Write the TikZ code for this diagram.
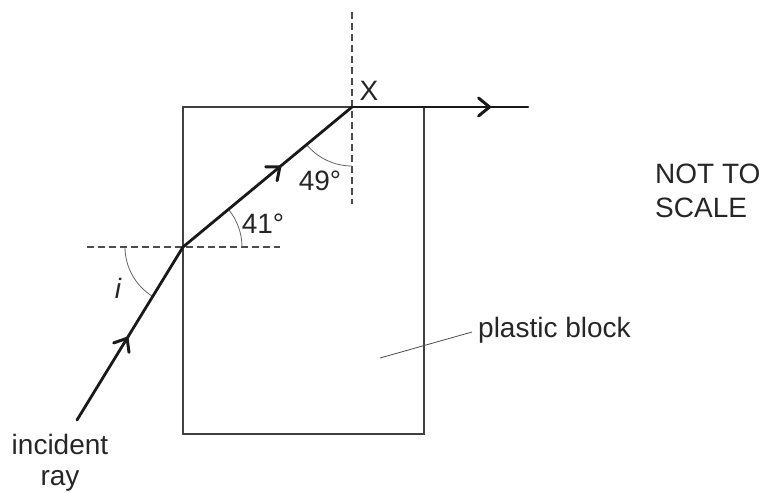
\documentclass[tikz,border=0pt]{standalone}
\usepackage{fontspec}
\setmainfont{Liberation Sans}
\usetikzlibrary{arrows.meta,decorations.markings}
\begin{document}
\begin{tikzpicture}[x=1pt,y=-1pt,
  ray/.style={line width=2.8pt, line cap=round, color=black!90},
  blockline/.style={line width=1.2pt, color=black!75},
  normal/.style={line width=1.1pt, dash pattern=on 7pt off 4pt, color=black!70},
  anglearc/.style={line width=0.8pt, color=black!60},
  lbl/.style={font=\fontsize{28}{32}\selectfont, text=black!85, inner sep=0pt, anchor=base},
  midarrow/.style={postaction={decorate}, decoration={markings,
     mark=at position #1 with {\arrow{Straight Barb[length=11pt,width=18pt,line width=3pt,round]}}}}
]
\useasboundingbox (0,0) rectangle (764,493);
% block corners
\coordinate (BL) at (183,434);
\coordinate (TR) at (424,107);
\draw[blockline] (BL) rectangle (TR);
% key points
\coordinate (S) at (77,420);
\coordinate (P) at (183,247);
\coordinate (X) at (352,107);
\coordinate (E) at (528,107);
% normals
\coordinate (NL) at (87,247);
\coordinate (NR) at (280,247);
\coordinate (NT) at (352,12);
\coordinate (NB) at (352,204);
\draw[normal] (NL) -- (NR);
\draw[normal] (NT) -- (NB);
% angle arcs
\draw[anglearc] (P) ++(0:59) arc[start angle=0, end angle=-39.6, radius=59];
\draw[anglearc] (X) ++(90:59) arc[start angle=90, end angle=140.4, radius=59];
\draw[anglearc] (P) ++(180:58) arc[start angle=180, end angle=121.5, radius=58];
% rays
\draw[ray, midarrow=0.48] (S) -- (P);
\draw[ray, midarrow=0.58] (P) -- (X);
\draw[ray, midarrow=0.79] (X) -- (E);
% labels
\node[lbl] (lx) at (369,100) {X};
\node[lbl] (l41) at (263,233) {41°};
\node[lbl] (l49) at (320,190) {49°};
\node[lbl, font=\fontsize{28}{32}\selectfont\itshape] (li) at (118,298) {i};
\node[lbl, anchor=base west] (lnot) at (655,183) {NOT TO};
\node[lbl, anchor=base west] (lscale) at (655,217) {SCALE};
\node[lbl] (linc) at (60,454) {incident};
\node[lbl] (lray) at (60,485) {ray};
\node[lbl, anchor=base west] (lpb) at (478,337) {plastic block};
\coordinate (LA) at (380,358);
\coordinate (LB) at (472,332);
\draw[anglearc, color=black!70] (LA) -- (LB);
\end{tikzpicture}
\end{document}
